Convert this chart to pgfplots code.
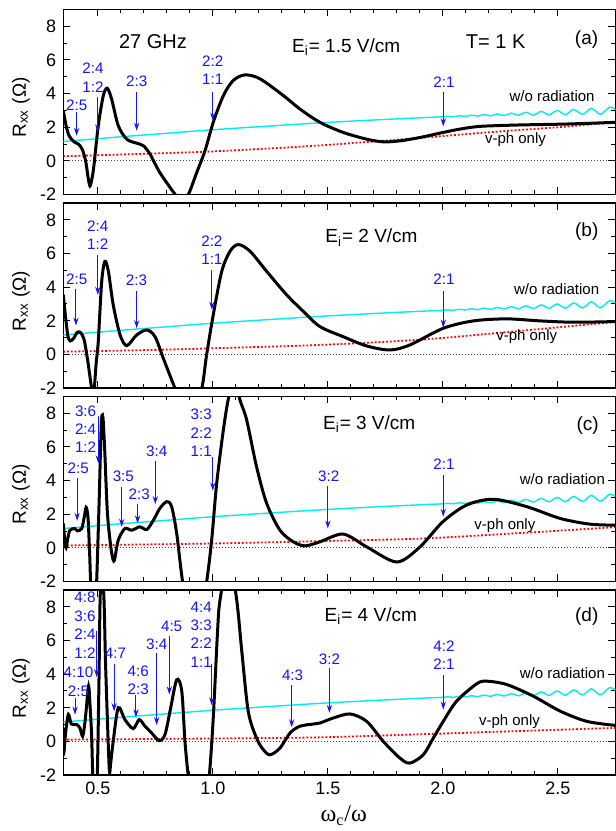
\documentclass[border=0pt]{standalone}
\usepackage{fontspec}
\setmainfont{Liberation Sans}
\newfontfamily\serifgr{Liberation Serif}
\usepackage{pgfplots}
\usepackage{pgfplotstable}
\pgfplotsset{compat=1.18}
\usetikzlibrary{arrows.meta}

\definecolor{lblue}{RGB}{20,20,255}
\definecolor{rcyan}{RGB}{0,235,245}

% w/o radiation (same in all panels)
\pgfplotstableread{
x y
0.35 1.15
0.60 1.43
0.80 1.64
1.00 1.85
1.20 2.03
1.466 2.26
1.70 2.43
1.90 2.56
2.00 2.62
2.020 2.651
2.045 2.619
2.071 2.681
2.097 2.639
2.124 2.715
2.151 2.657
2.179 2.753
2.208 2.675
2.237 2.794
2.267 2.691
2.298 2.839
2.329 2.706
2.361 2.887
2.394 2.721
2.428 2.940
2.462 2.734
2.497 2.996
2.533 2.746
2.570 3.058
2.608 2.758
2.646 3.123
2.685 2.767
2.725 3.192
2.75 3.05
}\wor

% v-ph only
\pgfplotstableread{
x y
0.35 0.27
0.70 0.42
1.00 0.56
1.379 0.84
1.70 1.15
1.90 1.36
2.20 1.70
2.50 2.00
2.75 2.29
}\vpha
\pgfplotstableread{
x y
0.35 0.16
0.70 0.25
1.00 0.36
1.466 0.56
1.90 0.87
2.30 1.35
2.75 1.93
}\vphb
\pgfplotstableread{
x y
0.35 0.14
1.00 0.26
1.466 0.40
1.90 0.55
2.30 0.85
2.75 1.23
}\vphc
\pgfplotstableread{
x y
0.35 0.10
1.00 0.17
1.466 0.24
1.90 0.42
2.30 0.60
2.75 0.80
}\vphd

% Rxx, panel (a)
\pgfplotstableread{
x y
0.35 2.99
0.362 2.1
0.375 1.5
0.395 1.15
0.415 1.0
0.432 0.7
0.447 0.0
0.458 -1.0
0.466 -1.49
0.474 -1.1
0.483 -0.3
0.502 2.09
0.524 3.88
0.541 4.32
0.560 3.68
0.589 2.09
0.626 1.29
0.669 1.05
0.698 0.90
0.727 0.40
0.770 -0.70
0.836 -1.99
0.865 -2.4
0.894 -1.99
0.930 -0.70
0.966 0.60
1.002 2.29
1.046 3.88
1.089 4.78
1.140 5.11
1.205 4.88
1.307 3.88
1.379 3.08
1.466 2.29
1.567 1.69
1.669 1.29
1.742 1.13
1.814 1.19
1.901 1.39
2.002 1.69
2.075 1.89
2.162 2.05
2.321 2.13
2.539 2.19
2.75 2.29
}\rxa

% Rxx, panel (b)
\pgfplotstableread{
x y
0.35 3.54
0.36 2.2
0.37 1.1
0.38 0.8
0.395 0.95
0.41 1.3
0.425 1.3
0.44 0.9
0.452 0.0
0.463 -1.03
0.473 -2.03
0.479 -2.6
0.485 -2.0
0.493 -0.5
0.502 0.76
0.517 4.34
0.531 5.53
0.546 4.94
0.567 2.95
0.597 1.15
0.626 0.52
0.669 1.15
0.713 1.45
0.749 1.05
0.785 -0.24
0.836 -2.03
0.87 -3.1
0.91 -3.5
0.952 -2.03
0.973 -0.04
1.002 2.35
1.039 4.94
1.075 6.13
1.111 6.53
1.162 6.13
1.234 4.94
1.321 3.54
1.394 2.55
1.466 1.65
1.567 1.05
1.669 0.50
1.770 0.26
1.857 0.56
2.002 1.55
2.133 1.99
2.278 2.11
2.423 1.99
2.567 1.91
2.75 1.95
}\rxb

% Rxx, panel (c)
\pgfplotstableread{
x y
0.35 1.45
0.356 0.5
0.362 0.02
0.37 0.6
0.379 1.05
0.40 1.15
0.411 1.01
0.43 1.15
0.442 1.9
0.449 2.41
0.455 2.1
0.459 1.45
0.465 -0.5
0.469 -2.03
0.478 -3.5
0.488 -3.5
0.495 -2.0
0.506 2.85
0.515 7.3
0.522 7.8
0.530 5.83
0.541 2.25
0.553 0.46
0.563 -0.5
0.572 -0.74
0.589 0.46
0.618 1.15
0.647 1.05
0.683 1.25
0.713 1.09
0.742 1.65
0.770 2.35
0.800 2.75
0.821 2.45
0.843 0.86
0.869 -2.03
0.90 -4.0
0.94 -4.5
0.973 -2.03
0.995 0.46
1.017 3.84
1.046 7.02
1.067 8.82
1.092 10.2
1.118 8.8
1.147 7.62
1.190 4.84
1.234 2.65
1.292 1.05
1.350 0.36
1.401 0.12
1.466 0.36
1.567 0.82
1.669 0.06
1.800 -0.84
1.901 0.06
2.000 1.55
2.104 2.55
2.220 2.89
2.365 2.45
2.510 1.75
2.640 1.41
2.75 1.35
}\rxc

% Rxx, panel (d)
\pgfplotstableread{
x y
0.35 0.8
0.352 -0.7
0.36 0.5
0.372 1.6
0.385 1.03
0.408 1.0
0.422 0.8
0.434 0.3
0.443 1.0
0.449 1.79
0.46 3.28
0.466 2.2
0.473 0.4
0.478 -2.0
0.484 -3.5
0.493 -3.5
0.498 -2.0
0.505 3.5
0.510 8.4
0.518 10.5
0.527 8.4
0.533 5.0
0.539 2.39
0.550 -1.69
0.556 -1.3
0.567 0.0
0.589 2.0
0.618 1.29
0.654 0.76
0.680 1.29
0.705 0.90
0.734 0.50
0.767 0.04
0.792 0.40
0.814 1.79
0.843 3.66
0.865 2.99
0.879 0.0
0.893 -2.0
0.915 -4.0
0.940 -5.0
0.965 -4.0
0.985 -2.0
1.002 1.39
1.020 6.37
1.031 8.36
1.070 11.0
1.104 8.4
1.126 5.37
1.154 1.79
1.190 0.20
1.220 -0.50
1.249 -0.80
1.292 -0.40
1.336 0.50
1.379 0.90
1.437 1.03
1.466 1.09
1.524 1.39
1.597 1.63
1.669 1.19
1.741 0.0
1.814 -1.0
1.857 -1.29
1.915 -0.8
1.959 0.2
2.002 1.19
2.060 2.39
2.147 3.42
2.190 3.58
2.278 3.38
2.393 2.69
2.510 1.80
2.626 1.19
2.75 0.95
}\rxd

\pgfplotsset{
  panel/.style={
    scale only axis, width=276pt, height=92.5pt,
    xmin=0.35, xmax=2.75, ymin=-2, ymax=9,
    xtick={0.5,1,1.5,2,2.5}, minor x tick num=4,
    ytick={-2,0,2,4,6,8}, minor y tick num=1,
    tick align=inside, major tick length=3.5pt, minor tick length=2pt,
    axis line style={line width=0.75pt},
    every tick/.style={black, line width=0.5pt},
    tick label style={font=\fontsize{9}{10}\selectfont},
    /pgf/number format/assume math mode=true,
    xticklabel style={/pgf/number format/.cd, fixed, fixed zerofill, precision=1},
    ylabel={R\textsubscript{xx} (Ω)},
    ylabel style={at={(axis description cs:-0.0766,0.47)}, anchor=center,
      font=\fontsize{9.5}{11}\selectfont},
  },
  rxx/.style={black, line width=1.5pt, smooth, tension=0.5},
  wor/.style={rcyan, line width=0.7pt, smooth},
  vph/.style={red, densely dotted, line width=0.9pt, smooth},
  zer/.style={black!75, densely dotted, line width=0.5pt},
  arr/.style={lblue, line width=0.5pt, -{Stealth[length=4pt,width=2.6pt]}},
}
\tikzset{
  lbl/.style={text=lblue, font=\fontsize{7.6}{9.2}\selectfont, align=center},
  big/.style={font=\fontsize{10}{12}\selectfont},
  med/.style={font=\fontsize{9.5}{11}\selectfont},
  sml/.style={font=\fontsize{7.5}{9}\selectfont},
}

\begin{document}
\begin{tikzpicture}
\path[use as bounding box] (0,0) rectangle (308pt,415.5pt);

% ---------- (a) ----------
\begin{axis}[panel, at={(31.65pt,318.25pt)}, anchor=south west, xticklabels={}]
  \addplot[zer] coordinates {(0.35,0) (2.75,0)};
  \addplot[vph] table {\vpha};
  \addplot[wor] table {\wor};
  \addplot[rxx] table {\rxa};
  \addplot[arr] coordinates {(0.408,2.89) (0.408,1.49)};
  \addplot[arr] coordinates {(0.5,3.78) (0.5,1.69)};
  \addplot[arr] coordinates {(0.669,4.08) (0.669,1.79)};
  \addplot[arr] coordinates {(1.0,4.12) (1.0,2.39)};
  \addplot[arr] coordinates {(2.002,4.08) (2.002,2.05)};
  \node[lbl] at (axis cs:0.408,3.32) {2:5};
  \node[lbl] at (axis cs:0.479,4.955) {2:4\\1:2};
  \node[lbl] at (axis cs:0.669,4.72) {2:3};
  \node[lbl] at (axis cs:1.0,5.375) {2:2\\1:1};
  \node[lbl] at (axis cs:2.005,4.68) {2:1};
  \node[big] at (axis cs:0.74,7.07) {27 GHz};
  \node[med] at (axis cs:1.58,6.75) {E\textsubscript{i}= 1.5 V/cm};
  \node[big] at (axis cs:2.23,7.1) {T= 1 K};
  \node[med] at (axis cs:2.625,7.2) {(a)};
  \node[sml] at (axis cs:2.475,3.84) {w/o radiation};
  \node[sml] at (axis cs:2.316,1.26) {v-ph only};
\end{axis}

% ---------- (b) ----------
\begin{axis}[panel, at={(31.65pt,221.5pt)}, anchor=south west, xticklabels={}]
  \addplot[zer] coordinates {(0.35,0) (2.75,0)};
  \addplot[vph] table {\vphb};
  \addplot[wor] table {\wor};
  \addplot[rxx] table {\rxb};
  \addplot[arr] coordinates {(0.405,3.9) (0.405,1.71)};
  \addplot[arr] coordinates {(0.5,5.89) (0.5,3.54)};
  \addplot[arr] coordinates {(0.669,3.74) (0.669,1.55)};
  \addplot[arr] coordinates {(0.996,5.03) (0.996,2.65)};
  \addplot[arr] coordinates {(2.002,3.74) (2.002,1.59)};
  \node[lbl] at (axis cs:0.408,4.44) {2:5};
  \node[lbl] at (axis cs:0.5,7.075) {2:4\\1:2};
  \node[lbl] at (axis cs:0.668,4.38) {2:3};
  \node[lbl] at (axis cs:0.996,6.21) {2:2\\1:1};
  \node[lbl] at (axis cs:2.005,4.44) {2:1};
  \node[med] at (axis cs:1.69,6.93) {E\textsubscript{i}= 2 V/cm};
  \node[med] at (axis cs:2.626,7.32) {(b)};
  \node[sml] at (axis cs:2.495,3.85) {w/o radiation};
  \node[sml] at (axis cs:2.365,1.07) {v-ph only};
\end{axis}

% ---------- (c) ----------
\begin{axis}[panel, at={(31.65pt,124.75pt)}, anchor=south west, xticklabels={}]
  \addplot[zer] coordinates {(0.35,0) (2.75,0)};
  \addplot[vph] table {\vphc};
  \addplot[wor] table {\wor};
  \addplot[rxx] table {\rxc};
  \addplot[arr] coordinates {(0.41,4.14) (0.41,1.61)};
  \addplot[arr] coordinates {(0.502,7.82) (0.502,5.03)};
  \addplot[arr] coordinates {(0.604,3.6) (0.604,1.25)};
  \addplot[arr] coordinates {(0.673,2.6) (0.673,1.45)};
  \addplot[arr] coordinates {(0.75,5.19) (0.75,2.6)};
  \addplot[arr] coordinates {(1.0,5.39) (1.0,3.4)};
  \addplot[arr] coordinates {(1.50,3.68) (1.50,1.15)};
  \addplot[arr] coordinates {(2.002,4.34) (2.002,1.85)};
  \node[lbl] at (axis cs:0.415,4.74) {2:5};
  \node[lbl] at (axis cs:0.447,7.06) {3:6\\2:4\\1:2};
  \node[lbl] at (axis cs:0.611,4.28) {3:5};
  \node[lbl] at (axis cs:0.68,3.2) {2:3};
  \node[lbl] at (axis cs:0.756,5.73) {3:4};
  \node[lbl] at (axis cs:0.95,6.83) {3:3\\2:2\\1:1};
  \node[lbl] at (axis cs:1.504,4.28) {3:2};
  \node[lbl] at (axis cs:2.005,5.0) {2:1};
  \node[med] at (axis cs:1.68,7.36) {E\textsubscript{i}= 3 V/cm};
  \node[med] at (axis cs:2.63,7.3) {(c)};
  \node[sml] at (axis cs:2.52,4.09) {w/o radiation};
  \node[sml] at (axis cs:2.27,1.35) {v-ph only};
\end{axis}

% ---------- (d) ----------
\begin{axis}[panel, at={(31.65pt,28pt)}, anchor=south west,
  xlabel={\serifgr ω\textsubscript{c}/ω},
  xlabel style={at={(axis description cs:0.508,-0.2524)}, anchor=base,
    font=\fontsize{12}{14}\selectfont}]
  \addplot[zer] coordinates {(0.35,0) (2.75,0)};
  \addplot[vph] table {\vphd};
  \addplot[wor] table {\wor};
  \addplot[rxx] table {\rxd};
  \addplot[arr] coordinates {(0.401,2.59) (0.401,1.59)};
  \addplot[arr] coordinates {(0.495,6.57) (0.495,3.82)};
  \addplot[arr] coordinates {(0.571,4.58) (0.571,1.79)};
  \addplot[arr] coordinates {(0.666,2.75) (0.666,1.43)};
  \addplot[arr] coordinates {(0.756,5.27) (0.756,0.96)};
  \addplot[arr] coordinates {(0.811,6.27) (0.811,2.79)};
  \addplot[arr] coordinates {(0.995,4.58) (0.995,2.15)};
  \addplot[arr] coordinates {(1.343,3.34) (1.343,0.84)};
  \addplot[arr] coordinates {(1.507,4.38) (1.507,1.69)};
  \addplot[arr] coordinates {(2.002,3.94) (2.002,1.89)};
  \node[lbl] at (axis cs:0.416,3.55) {4:10\\2:5};
  \node[lbl] at (axis cs:0.444,6.91) {4:8\\3:6\\2:4\\1:2};
  \node[lbl] at (axis cs:0.577,5.21) {4:7};
  \node[lbl] at (axis cs:0.676,3.63) {4:6\\2:3};
  \node[lbl] at (axis cs:0.756,5.77) {3:4};
  \node[lbl] at (axis cs:0.821,6.81) {4:5};
  \node[lbl] at (axis cs:0.95,6.355) {4:4\\3:3\\2:2\\1:1};
  \node[lbl] at (axis cs:1.347,3.94) {4:3};
  \node[lbl] at (axis cs:1.507,4.88) {3:2};
  \node[lbl] at (axis cs:2.005,5.115) {4:2\\2:1};
  \node[med] at (axis cs:1.687,7.44) {E\textsubscript{i}= 4 V/cm};
  \node[med] at (axis cs:2.626,7.44) {(d)};
  \node[sml] at (axis cs:2.52,4.07) {w/o radiation};
  \node[sml] at (axis cs:2.29,1.19) {v-ph only};
\end{axis}
\end{tikzpicture}
\end{document}
